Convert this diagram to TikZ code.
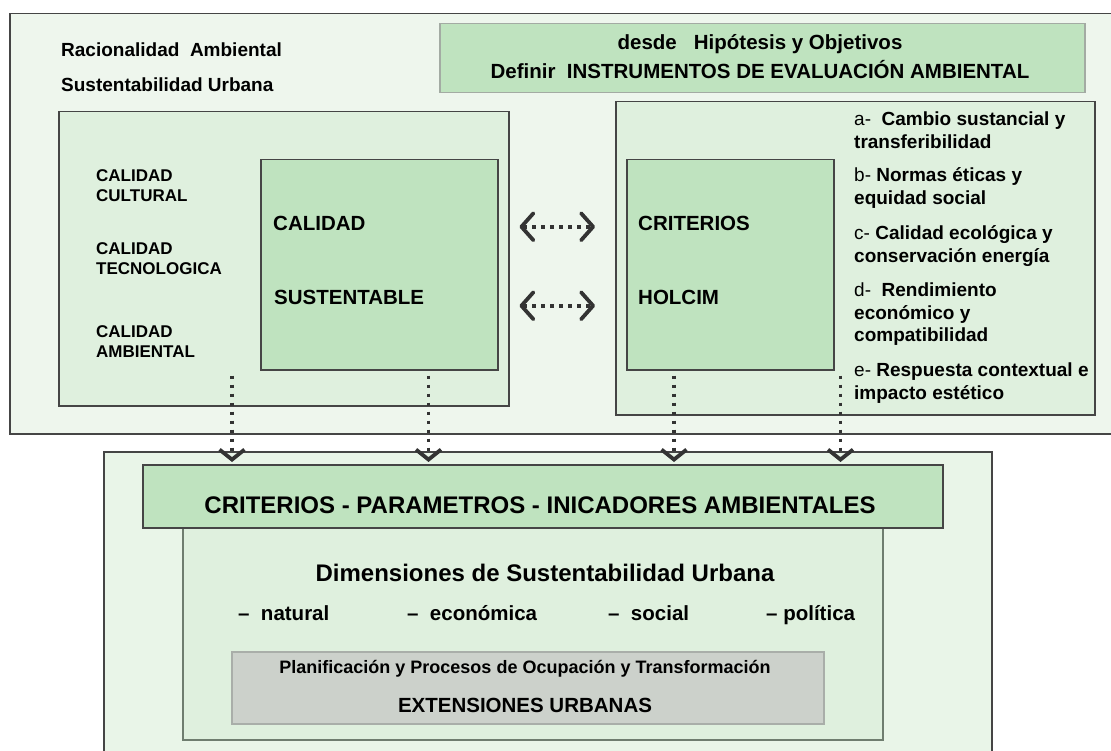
\documentclass[tikz,border=0pt]{standalone}
\usepackage{fontspec}
\setmainfont{Liberation Sans}
\usetikzlibrary{arrows.meta,positioning}

\definecolor{paleA}{HTML}{EEF6ED}
\definecolor{paleB}{HTML}{DFF0DE}
\definecolor{paleC}{HTML}{E9F5E8}
\definecolor{deep}{HTML}{BFE3BF}
\definecolor{greyb}{HTML}{CCD1CB}
\definecolor{edge}{HTML}{454545}
\definecolor{hdedge}{HTML}{A3ABA3}
\definecolor{dimedge}{HTML}{6F7D6F}
\definecolor{greyedge}{HTML}{A9AEA9}
\definecolor{arr}{HTML}{333333}

\begin{document}
\begin{tikzpicture}[x=1pt,y=-1pt,
   box/.style={draw=edge,line width=1.5pt,anchor=north west,inner sep=0pt},
   txt/.style={inner sep=0pt,align=left,anchor=base west,font=\fontsize{#1}{#1}\selectfont\bfseries},
   lst/.style={txt=19,anchor=west,font=\fontsize{19}{22.5}\selectfont\bfseries},
   cal/.style={txt=17,anchor=west,font=\fontsize{17}{20.7}\selectfont\bfseries},
   dots/.style={draw=arr,line width=3.8pt,dash pattern=on 3.8pt off 5.2pt},
   harr/.style={dots,{Straight Barb[length=12pt,width=27pt,line width=3.8pt,round]}-{Straight Barb[length=12pt,width=27pt,line width=3.8pt,round]}},
   varr/.style={dots,-{Straight Barb[length=10pt,width=25pt,line width=3.8pt]}}]
\useasboundingbox (0,0) rectangle (1111,751);

% upper part
\node[box,fill=paleA,minimum width=1111pt,minimum height=420pt] (up) at (9,13) {};
\node[box,draw=hdedge,fill=deep,minimum width=645pt,minimum height=69pt] (hdr) at (439,23) {};
\node[box,fill=paleB,minimum width=450pt,minimum height=294pt] (lq) at (58,111) {};
\node[box,fill=deep,minimum width=237pt,minimum height=210pt] (cs) at (260,159) {};
\node[box,fill=paleB,minimum width=479pt,minimum height=313pt] (rc) at (615,101) {};
\node[box,fill=deep,minimum width=207pt,minimum height=210pt] (ch) at (626,159) {};

\node[txt=19] (ra) at (61,57) {Racionalidad\ \ Ambiental};
\node[txt=19] (su) at (61,91.5) {Sustentabilidad Urbana};
\node[txt=20.5,anchor=base] (hd1) at (760,50) {desde\ \ \ Hipótesis y Objetivos};
\node[txt=20.5,anchor=base] (hd2) at (760,79) {Definir\ \ INSTRUMENTOS DE EVALUACIÓN AMBIENTAL};

\node[cal] (q1) at (96,185.5) {CALIDAD\\CULTURAL};
\node[cal] (q2) at (96,258.5) {CALIDAD\\TECNOLOGICA};
\node[cal] (q3) at (96,341.5) {CALIDAD\\AMBIENTAL};
\node[txt=20.5] (calid) at (273,230.5) {CALIDAD};
\node[txt=20.5] (sust) at (274,305) {SUSTENTABLE};
\node[txt=20.5] (crit) at (638,230.5) {CRITERIOS};
\node[txt=20.5] (holc) at (638,305) {HOLCIM};

\node[lst] (ia) at (854,130) {{\mdseries a-}\ \ Cambio sustancial y\\transferibilidad};
\node[lst] (ib) at (854,188) {{\mdseries b-} Normas éticas y\\equidad social};
\node[lst] (ic) at (854,246) {{\mdseries c-} Calidad ecológica y\\conservación energía};
\node[lst] (id) at (854,314.5) {{\mdseries d-}\ \ Rendimiento\\económico y\\compatibilidad};
\node[lst] (ie) at (854,383) {{\mdseries e-} Respuesta contextual e\\impacto estético};

% lower part
\node[box,fill=paleC,minimum width=888pt,minimum height=320pt] (low) at (103,451) {};
\node[box,fill=paleB,draw=dimedge,minimum width=700pt,minimum height=212pt] (dim) at (182,527) {};
\node[box,fill=deep,minimum width=800pt,minimum height=63pt] (cpi) at (142,464) {};
\node[box,fill=greyb,draw=greyedge,minimum width=592pt,minimum height=72pt] (pl) at (231,651) {};

\node[txt=24,anchor=base] (cpit) at (540,513) {CRITERIOS - PARAMETROS - INICADORES AMBIENTALES};
\node[txt=24,anchor=base] (dimt) at (545,581) {Dimensiones de Sustentabilidad Urbana};
\node[txt=20.5] (d1) at (238,620) {–\ \ natural};
\node[txt=20.5] (d2) at (407,620) {–\ \ económica};
\node[txt=20.5] (d3) at (608,620) {–\ \ social};
\node[txt=20.5] (d4) at (766,620) {– política};
\node[txt=18,anchor=base] (plt) at (525,673) {Planificación y Procesos de Ocupación y Transformación};
\node[txt=20.5,anchor=base] (ext) at (525,712) {EXTENSIONES URBANAS};

% arrows
\draw[harr,shorten <=21pt,shorten >=31pt] ([yshift=38pt]cs.east) -- ([yshift=38pt]ch.west);
\draw[harr,shorten <=21pt,shorten >=31pt] ([yshift=-41pt]cs.east) -- ([yshift=-41pt]ch.west);
\draw[varr,shorten >=2pt] ([xshift=-28pt,yshift=-5pt]cs.south west) -- ([xshift=-28pt]cs.south west |- cpi.north);
\draw[varr,shorten >=2pt] ([xshift=-70pt,yshift=-5pt]cs.south east) -- ([xshift=-70pt]cs.south east |- cpi.north);
\draw[varr,shorten >=2pt] ([xshift=48pt,yshift=-5pt]ch.south west) -- ([xshift=48pt]ch.south west |- cpi.north);
\draw[varr,shorten >=2pt] ([xshift=6pt,yshift=-5pt]ch.south east) -- ([xshift=6pt]ch.south east |- cpi.north);
\end{tikzpicture}
\end{document}
